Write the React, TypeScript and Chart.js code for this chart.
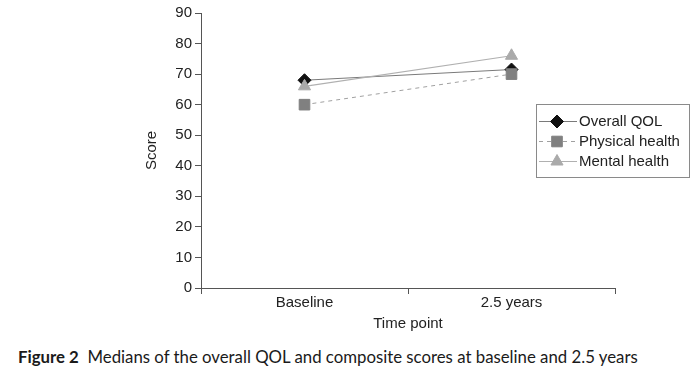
import React, { useEffect, useRef } from "react";
import { Chart, registerables } from "chart.js";

Chart.register(...registerables);

const categories = ["Baseline", "2.5 years"];
const seriesNames = ["Overall QOL", "Physical health", "Mental health"];
const overallQOL = [68, 71.5];
const physicalHealth = [60, 70];
const mentalHealth = [66, 76];
const yTicks = [0, 10, 20, 30, 40, 50, 60, 70, 80, 90];

const FONT = "'Liberation Sans', Arial, sans-serif";

function drawMarker(ctx: CanvasRenderingContext2D, style: string, x: number, y: number, r: number, fill: string) {
  ctx.save();
  ctx.fillStyle = fill;
  ctx.strokeStyle = fill;
  ctx.lineWidth = 1;
  ctx.setLineDash([]);
  ctx.beginPath();
  if (style === "rectRot") {
    ctx.moveTo(x, y - r);
    ctx.lineTo(x + r, y);
    ctx.lineTo(x, y + r);
    ctx.lineTo(x - r, y);
  } else if (style === "rect") {
    const s = r * Math.SQRT1_2;
    ctx.rect(x - s, y - s, 2 * s, 2 * s);
  } else {
    ctx.moveTo(x, y - r);
    ctx.lineTo(x + r * 0.866, y + r * 0.5);
    ctx.lineTo(x - r * 0.866, y + r * 0.5);
  }
  ctx.closePath();
  ctx.fill();
  ctx.stroke();
  ctx.restore();
}

const legendBox = {
  id: "legendBox",
  afterDraw(chart: any) {
    const ctx = chart.ctx as CanvasRenderingContext2D;
    ctx.save();
    ctx.strokeStyle = "#8a8a8a";
    ctx.lineWidth = 1;
    ctx.strokeRect(536.5, 104.5, 153, 73);
    const rows = [121.5, 141.5, 161.5];
    chart.data.datasets.forEach((ds: any, i: number) => {
      const y = rows[i];
      ctx.save();
      ctx.strokeStyle = ds.borderColor;
      ctx.lineWidth = ds.borderWidth;
      ctx.setLineDash(ds.borderDash || []);
      ctx.beginPath();
      ctx.moveTo(539, y);
      ctx.lineTo(577, y);
      ctx.stroke();
      ctx.restore();
      drawMarker(ctx, ds.pointStyle, 557, y, ds.pointRadius, ds.pointBackgroundColor);
      ctx.fillStyle = "#222";
      ctx.font = `15px ${FONT}`;
      ctx.textBaseline = "middle";
      ctx.textAlign = "left";
      ctx.fillText(ds.label, 579, y);
    });
    ctx.restore();
  },
};

export default function App() {
  const ref = useRef<HTMLCanvasElement | null>(null);

  useEffect(() => {
    if (!ref.current) return;
    const chart = new Chart(ref.current, {
      type: "line",
      data: {
        labels: categories,
        datasets: [
          {
            label: seriesNames[0],
            data: overallQOL,
            borderColor: "#7a7a7a",
            borderWidth: 1,
            pointStyle: "rectRot",
            pointRadius: 6.5,
            pointBackgroundColor: "#111",
            pointBorderColor: "#111",
            pointBorderWidth: 1,
            order: 3,
          },
          {
            label: seriesNames[1],
            data: physicalHealth,
            borderColor: "#a0a0a0",
            borderWidth: 1,
            borderDash: [4, 4],
            pointStyle: "rect",
            pointRadius: 7.5,
            pointBackgroundColor: "#808080",
            pointBorderColor: "#808080",
            pointBorderWidth: 1,
            order: 2,
          },
          {
            label: seriesNames[2],
            data: mentalHealth,
            borderColor: "#b0b0b0",
            borderWidth: 1.2,
            pointStyle: "triangle",
            pointRadius: 7,
            pointBackgroundColor: "#aaaaaa",
            pointBorderColor: "#aaaaaa",
            pointBorderWidth: 1,
            order: 1,
          },
        ] as any,
      },
      options: {
        animation: false,
        responsive: false,
        layout: { padding: { left: 140, right: 85, top: 13, bottom: 0 } },
        plugins: { legend: { display: false }, tooltip: { enabled: false } },
        scales: {
          x: {
            type: "category",
            offset: true,
            grid: { drawOnChartArea: false, drawTicks: true, tickLength: 6, color: "#555", offset: true },
            border: { display: true, color: "#555", width: 1 },
            ticks: { color: "#222", font: { family: FONT, size: 15 }, padding: 0, maxRotation: 0 },
            title: { display: true, text: "Time point", color: "#222", font: { family: FONT, size: 15 }, padding: { top: 0, bottom: 7 } },
            afterFit: (s: any) => { s.height = 52; },
          },
          y: {
            min: 0,
            max: 90,
            afterBuildTicks: (s: any) => { s.ticks = yTicks.map((v) => ({ value: v })); },
            grid: { drawOnChartArea: false, drawTicks: true, tickLength: 6, color: "#555" },
            border: { display: true, color: "#555", width: 1 },
            ticks: { color: "#222", font: { family: FONT, size: 15 }, padding: 3 },
            title: { display: true, text: "Score", color: "#222", font: { family: FONT, size: 15 }, padding: { top: 3, bottom: 0 } },
            afterFit: (s: any) => { s.width = 61; },
          },
        },
      } as any,
      plugins: [legendBox],
    });
    return () => chart.destroy();
  }, []);

  return (
    <div style={{ position: "absolute", left: 0, top: 0, width: 700, height: 370, background: "#fff" }}>
      <canvas ref={ref} width={700} height={340} style={{ display: "block" }} />
      <div
        style={{
          position: "absolute",
          left: 18,
          top: 346,
          fontFamily: "Lato, 'Noto Sans', sans-serif",
          fontSize: 16.8,
          color: "#1a1a1a",
          whiteSpace: "nowrap",
          lineHeight: "22px",
        }}
      >
        <b>Figure 2</b>&nbsp; Medians of the overall QOL and composite scores at baseline and 2.5 years
      </div>
    </div>
  );
}
